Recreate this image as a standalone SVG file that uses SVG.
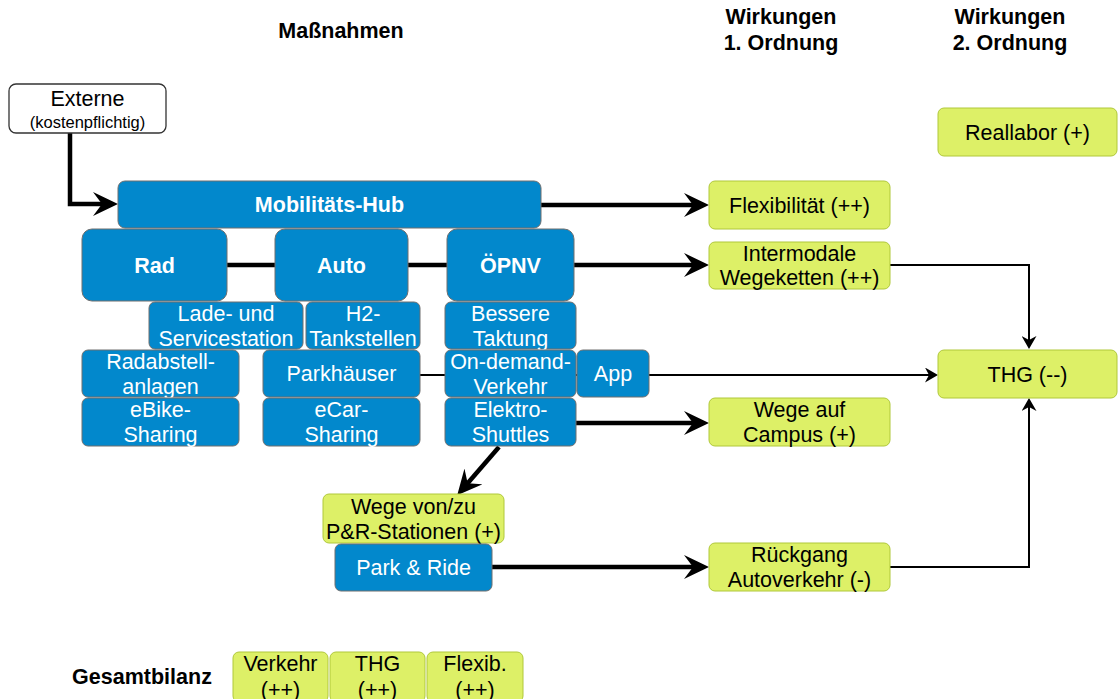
<svg xmlns="http://www.w3.org/2000/svg" width="1118" height="699" viewBox="0 0 1118 699">
<style>
text{font-family:"Liberation Sans",Arial,Helvetica,sans-serif;font-size:21.5px;text-anchor:middle}
.h{font-weight:bold;fill:#000}
.b rect{fill:#0288cc;stroke:#6f6f6f;stroke-width:1}
.b text{fill:#fff}
.bb text{font-weight:bold}
.g rect{fill:#ddf067;stroke:#b0c83a;stroke-width:1}
.g text{fill:#000}
.w rect{fill:#fff;stroke:#333;stroke-width:1.3}
.thick{fill:none;stroke:#000;stroke-width:4.5;marker-end:url(#ah)}
.thin{fill:none;stroke:#000;stroke-width:2;marker-end:url(#ahs)}
</style>
<defs>
<marker id="ah" markerUnits="userSpaceOnUse" markerWidth="25" markerHeight="24" refX="10" refY="12" orient="auto">
<path d="M0,0 L25,12 L0,24 L9,12 Z" fill="#000"/>
</marker>
<marker id="ahs" markerUnits="userSpaceOnUse" markerWidth="14" markerHeight="15" refX="5" refY="7.5" orient="auto">
<path d="M0,0 L13,7.5 L0,15 L4,7.5 Z" fill="#000"/>
</marker>
</defs>
<rect width="1118" height="699" fill="#fff"/>

<g id="headers">
<text class="h" x="341" y="38">Maßnahmen</text>
<text class="h" x="781" y="24">Wirkungen</text>
<text class="h" x="781" y="50">1. Ordnung</text>
<text class="h" x="1010" y="24">Wirkungen</text>
<text class="h" x="1010" y="50">2. Ordnung</text>
<text class="h" x="142" y="684">Gesamtbilanz</text>
</g>

<g id="connectors">
<path class="thick" d="M70,133 V204 H103"/>
<path class="thick" d="M541,205 H694"/>
<path class="thick" d="M227,265 H694"/>
<path class="thin" d="M890,265 H1029 V341"/>
<path class="thin" d="M420,375 H930"/>
<path class="thick" d="M576,423 H694"/>
<path class="thick" d="M499,447 L467,484"/>
<path class="thick" d="M492,567 H694"/>
<path class="thin" d="M890,567 H1029 V406"/>
</g>

<g id="externe" class="w"><rect x="9" y="84" width="157" height="49" rx="7"/>
<text x="87.5" y="106">Externe</text><text x="87.5" y="128" style="font-size:16.5px">(kostenpflichtig)</text></g>

<g id="hub" class="b bb"><rect x="118" y="181" width="423" height="47" rx="7"/><text x="329.5" y="212">Mobilitäts-Hub</text></g>
<g id="rad" class="b bb"><rect x="82" y="229" width="145" height="72" rx="10"/><text x="154.5" y="272.5">Rad</text></g>
<g id="auto" class="b bb"><rect x="275" y="229" width="133" height="72" rx="10"/><text x="341.5" y="272.5">Auto</text></g>
<g id="oepnv" class="b bb"><rect x="447" y="229" width="127" height="72" rx="10"/><text x="510.5" y="272.5">ÖPNV</text></g>

<g id="lade" class="b"><rect x="149" y="302" width="154" height="47" rx="6"/><text x="226" y="320.5">Lade- und</text><text x="226" y="345.5">Servicestation</text></g>
<g id="h2" class="b"><rect x="306" y="302" width="114" height="47" rx="6"/><text x="363" y="320.5">H2-</text><text x="363" y="345.5">Tankstellen</text></g>
<g id="takt" class="b"><rect x="445" y="302" width="131" height="47" rx="6"/><text x="510.5" y="320.5">Bessere</text><text x="510.5" y="345.5">Taktung</text></g>

<g id="radab" class="b"><rect x="82" y="350" width="157" height="47" rx="6"/><text x="160.5" y="368.5">Radabstell-</text><text x="160.5" y="393.5">anlagen</text></g>
<g id="park" class="b"><rect x="263" y="350" width="157" height="47" rx="6"/><text x="341.5" y="381">Parkhäuser</text></g>
<g id="ondemand" class="b"><rect x="445" y="350" width="131" height="47" rx="6"/><text x="510.5" y="368.5">On-demand-</text><text x="510.5" y="393.5">Verkehr</text></g>
<g id="app" class="b"><rect x="577" y="350" width="72" height="47" rx="6"/><text x="613" y="381">App</text></g>

<g id="ebike" class="b"><rect x="82" y="398" width="157" height="48" rx="6"/><text x="160.5" y="417">eBike-</text><text x="160.5" y="442">Sharing</text></g>
<g id="ecar" class="b"><rect x="263" y="398" width="157" height="48" rx="6"/><text x="341.5" y="417">eCar-</text><text x="341.5" y="442">Sharing</text></g>
<g id="shuttle" class="b"><rect x="445" y="398" width="131" height="48" rx="6"/><text x="510.5" y="417">Elektro-</text><text x="510.5" y="442">Shuttles</text></g>

<g id="pr-wege" class="g"><rect x="323" y="494" width="181" height="49" rx="6"/><text x="413.5" y="513.5">Wege von/zu</text><text x="413.5" y="538.5">P&amp;R-Stationen (+)</text></g>
<g id="parkride" class="b"><rect x="335" y="544" width="157" height="47" rx="6"/><text x="413.5" y="575">Park &amp; Ride</text></g>

<g id="flex" class="g"><rect x="709" y="181" width="181" height="48" rx="6"/><text x="799.5" y="212.5">Flexibilität (++)</text></g>
<g id="intermodal" class="g"><rect x="709" y="242" width="181" height="47" rx="6"/><text x="799.5" y="261">Intermodale</text><text x="799.5" y="285">Wegeketten (++)</text></g>
<g id="campus" class="g"><rect x="709" y="398" width="181" height="48" rx="6"/><text x="799.5" y="417">Wege auf</text><text x="799.5" y="442">Campus (+)</text></g>
<g id="rueckgang" class="g"><rect x="709" y="543" width="181" height="48" rx="6"/><text x="799.5" y="562">Rückgang</text><text x="799.5" y="587">Autoverkehr (-)</text></g>
<g id="reallabor" class="g"><rect x="938" y="108" width="179" height="48" rx="6"/><text x="1027.5" y="139.5">Reallabor (+)</text></g>
<g id="thg" class="g"><rect x="938" y="350" width="179" height="48" rx="6"/><text x="1027.5" y="381.5">THG (--)</text></g>

<g id="bil-verkehr" class="g"><rect x="233" y="652" width="95" height="50" rx="6"/><text x="280.5" y="671">Verkehr</text><text x="280.5" y="697">(++)</text></g>
<g id="bil-thg" class="g"><rect x="330" y="652" width="95" height="50" rx="6"/><text x="377.5" y="671">THG</text><text x="377.5" y="697">(++)</text></g>
<g id="bil-flex" class="g"><rect x="427" y="652" width="96" height="50" rx="6"/><text x="475" y="671">Flexib.</text><text x="475" y="697">(++)</text></g>
</svg>
